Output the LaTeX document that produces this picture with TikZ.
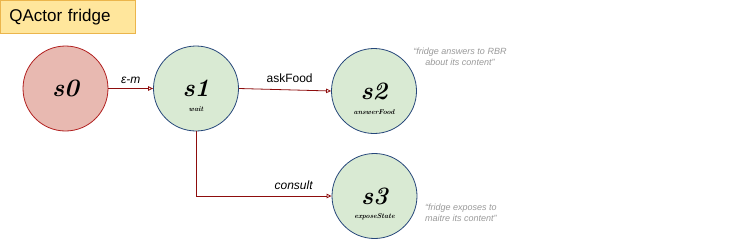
\documentclass[tikz,border=0pt]{standalone}
\usepackage{fontspec}
\usepackage{tikz}
\usetikzlibrary{arrows.meta,positioning}
\newfontfamily\arialfont{Liberation Sans}
\definecolor{titlefill}{HTML}{FFE69C}
\definecolor{titledraw}{HTML}{EBB54C}
\definecolor{startfill}{HTML}{E8B9B1}
\definecolor{startdraw}{HTML}{B11F1F}
\definecolor{statefill}{HTML}{D9EAD3}
\definecolor{statedraw}{HTML}{26477A}
\definecolor{movecol}{HTML}{8E0D0D}
\tikzset{
    title-box/.style = {draw=titledraw, fill=titlefill, thick, rectangle, anchor=north west, minimum width=135pt, minimum height=33pt, inner xsep=9pt, align=left, text width=117pt, font=\arialfont\fontsize{17}{19}\selectfont},
    state-circle/.style = {circle, draw=statedraw, fill=statefill, thick, minimum size=85pt, inner sep=0pt, font=\fontsize{25}{27}\selectfont\bfseries\itshape},
    state-start/.style = {state-circle, draw=startdraw, fill=startfill},
    state-body/.style = {font=\fontsize{7}{8}\selectfont\bfseries\itshape, inner sep=1pt},
    move/.style = {draw=movecol, thick, -{Triangle[open, length=5pt, width=4.5pt]}},
    move-label/.style = {font=\arialfont\fontsize{12}{14}\selectfont, inner sep=1pt},
    note-text/.style = {text=gray!80, font=\arialfont\itshape\fontsize{9}{11}\selectfont, inner sep=0pt},
}

\begin{document}
\begin{tikzpicture}[x=1pt, y=-1pt]
\useasboundingbox (0,0) rectangle (748,250);
\node [title-box] (title) at (0,0) {QActor fridge};

% states
\node [state-start] (s0) at (65.5,88.5) {s0};
\node [state-circle] (s1) at (196,88.5) {s1};
\node [state-circle] (s2) at (374,91) {s2};
\node [state-circle] (s3) at (374.5,196) {s3};
\node [state-body] at ([yshift=-21pt]s1.center) {wait};
\node [state-body] at ([yshift=-21pt]s2.center) {answerFood};
\node [state-body] at ([yshift=-21pt]s3.center) {exposeState};

% transitions
\draw [move] (s0) -- (s1) node [move-label, midway, above=3pt] {\itshape ε-m};
\draw [move] (s1.east) -- (s2.west) node [move-label, pos=0.55, above=6pt] {askFood};
\draw [move] (s1) |- (s3) node [move-label, pos=0.86, above=5pt] {\itshape consult};

% notes
\node [note-text, align=center] (note2) at (460,57) {“fridge answers to RBR\\about its content”};
\node [note-text, align=left, anchor=west] (note3) at (425,213) {“fridge exposes to\\maitre its content”};
\end{tikzpicture}
\end{document}
